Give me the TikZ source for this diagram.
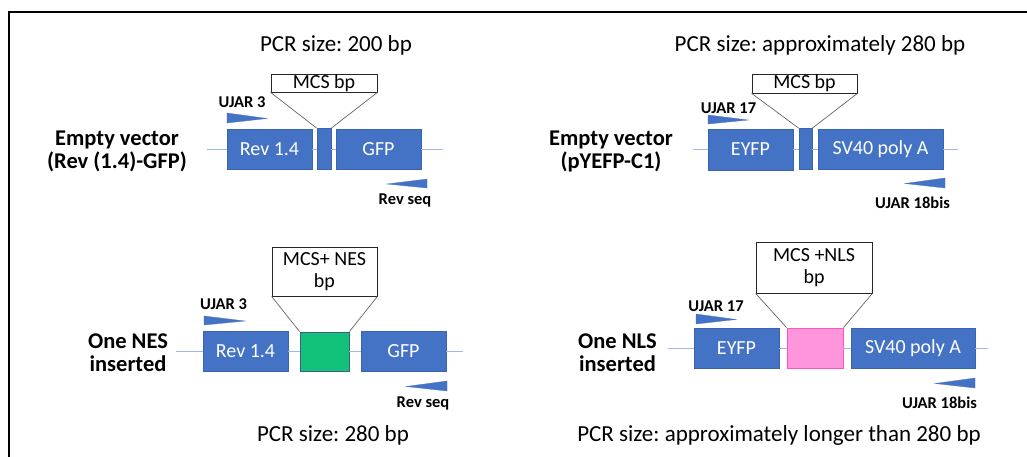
\documentclass[tikz,border=0pt]{standalone}
\usepackage{fontspec}
\setmainfont{Carlito}
\frenchspacing
\definecolor{geneblue}{HTML}{4472C4}
\definecolor{geneborder}{HTML}{3A64B0}
\definecolor{lineblue}{HTML}{9DB7E6}
\definecolor{nesgreen}{HTML}{12C27B}
\definecolor{nesborder}{HTML}{3D5F86}
\definecolor{nlspink}{HTML}{FF96DC}
\definecolor{nlsborder}{HTML}{FF55C4}
\begin{document}
\begin{tikzpicture}[x=1pt,y=-1pt,
  gene/.style={draw=geneborder, fill=geneblue, text=white, line width=0.8pt,
    font=\fontsize{20}{22}\selectfont, inner sep=0pt, minimum height=40pt},
  mcsbox/.style={draw=black!85, fill=white, line width=0.8pt, inner sep=0pt,
    font=\fontsize{20}{22}\selectfont, align=center},
  bline/.style={draw=lineblue, line width=0.9pt},
  zline/.style={draw=black!60, line width=0.7pt},
  primer/.style={fill=geneblue, draw=geneblue, line width=0.3pt},
  plab/.style={font=\bfseries\fontsize{16.5}{18}\selectfont, inner sep=0pt},
  side/.style={font=\bfseries\fontsize{22.5}{23}\selectfont, align=center, inner sep=0pt},
  pcr/.style={font=\fontsize{23}{26}\selectfont, inner sep=0pt}]
\useasboundingbox (0,0) rectangle (1027,457);
\fill[white] (0,0) rectangle (1027,457);
\draw[line width=2.5pt] (9,457) -- (9,12) -- (1027,12);

% ---------- Top left ----------
\node[pcr] (pcr1) at (336,45) {PCR size: 200 bp};
\node[side] (side1) at (117,151.5) {Empty vector\\(Rev (1.4)-GFP)};
\coordinate (aL) at (207,149);
\coordinate (aR) at (443,149);
\node[gene, minimum width=85pt] (rev1) at (269.5,149) {Rev 1.4};
\node[gene, minimum width=14pt, minimum height=41pt] (blk1) at (324,149) {};
\node[gene, minimum width=85pt] (gfp1) at (378.5,149) {GFP};
\node[mcsbox, minimum width=106pt, minimum height=18pt] (mcs1) at (324,83) {MCS bp};
\draw[bline] (aL) -- (rev1.west) (rev1.east) -- (blk1.west) (blk1.east) -- (gfp1.west) (gfp1.east) -- (aR);
\draw[zline] (mcs1.south west) -- (blk1.north west) (mcs1.south east) -- (blk1.north east);
\fill[primer] (227,113) -- (227,123) -- (267,118.5) -- cycle;
\node[plab] (u1) at (242,102) {UJAR 3};
\fill[primer] (427,179) -- (427,188) -- (387,184) -- cycle;
\node[plab] (r1) at (405,200) {Rev seq};

% ---------- Top right ----------
\node[pcr] (pcr2) at (820,45) {PCR size: approximately 280 bp};
\node[side] (side2) at (611,151.5) {Empty vector\\(pYEFP-C1)};
\coordinate (bL) at (693,149);
\coordinate (bR) at (958,149);
\node[gene, minimum width=85pt, minimum height=41pt] (eyfp2) at (750.5,149.5) {EYFP};
\node[gene, minimum width=13pt, minimum height=41pt] (blk2) at (805.5,149) {};
\node[gene, minimum width=125pt] (sv2) at (880.5,149) {SV40 poly A};
\node[mcsbox, minimum width=105pt, minimum height=19pt] (mcs2) at (804.5,83.5) {MCS bp};
\draw[bline] (bL) -- (eyfp2.west |- bL) (eyfp2.east |- bL) -- (blk2.west) (blk2.east) -- (sv2.west) (sv2.east) -- (bR);
\draw[zline] (mcs2.south west) -- (blk2.north west) (mcs2.south east) -- (blk2.north east);
\fill[primer] (708,115) -- (708,124) -- (748,120) -- cycle;
\node[plab] (u2) at (728.5,108) {UJAR 17};
\fill[primer] (945,178) -- (945,188) -- (905,183.5) -- cycle;
\node[plab] (r2) at (912.5,203) {UJAR 18bis};

% ---------- Bottom left ----------
\node[side] (side3) at (128,352.5) {One NES\\inserted};
\coordinate (cL) at (176,351);
\coordinate (cR) at (463,351);
\node[gene, minimum width=85pt] (rev3) at (245.5,351) {Rev 1.4};
\node[gene, draw=nesborder, fill=nesgreen, minimum width=49pt, minimum height=39pt] (nes3) at (324.5,351.5) {};
\node[gene, minimum width=85pt] (gfp3) at (403.5,351) {GFP};
\node[mcsbox, minimum width=105pt, minimum height=49pt] (mcs3) at (324.5,271.5) {MCS+ NES\\bp};
\draw[bline] (cL) -- (rev3.west) (rev3.east) -- (nes3.west |- cL) (nes3.east |- cL) -- (gfp3.west) (gfp3.east) -- (cR);
\draw[zline] (mcs3.south west) -- (nes3.north west) (mcs3.south east) -- (nes3.north east);
\fill[primer] (204,316) -- (204,325) -- (245,321) -- cycle;
\node[plab] (u3) at (223.5,304) {UJAR 3};
\fill[primer] (447,381) -- (447,391) -- (406,386.5) -- cycle;
\node[plab] (r3) at (423,403) {Rev seq};
\node[pcr] (pcr3) at (333,435) {PCR size: 280 bp};

% ---------- Bottom right ----------
\node[side] (side4) at (617.5,352.5) {One NLS\\inserted};
\coordinate (dL) at (668,348);
\coordinate (dR) at (988,348);
\node[gene, minimum width=85pt] (eyfp4) at (736.5,348) {EYFP};
\node[gene, draw=nlsborder, fill=nlspink, minimum width=56pt] (nls4) at (815,348) {};
\node[gene, minimum width=124pt] (sv4) at (913,348) {SV40 poly A};
\node[mcsbox, minimum width=116pt, minimum height=51pt] (mcs4) at (814,267.5) {MCS +NLS\\bp};
\draw[bline] (dL) -- (eyfp4.west) (eyfp4.east) -- (nls4.west) (nls4.east) -- (sv4.west) (sv4.east) -- (dR);
\draw[zline] (mcs4.south west) -- (nls4.north west) (mcs4.south east) -- (nls4.north east);
\fill[primer] (696,314) -- (696,324) -- (736,319.5) -- cycle;
\node[plab] (u4) at (716,306) {UJAR 17};
\fill[primer] (975,378) -- (975,388) -- (935,383.5) -- cycle;
\node[plab] (r4) at (939.5,403) {UJAR 18bis};
\node[pcr] (pcr4) at (779,435) {PCR size: approximately longer than 280 bp};
\end{tikzpicture}
\end{document}
